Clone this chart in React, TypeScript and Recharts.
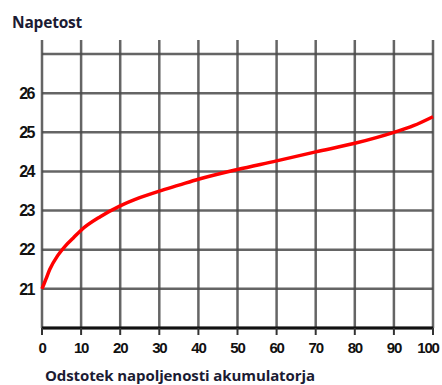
import React from 'react';
import { LineChart, Line, XAxis, YAxis, CartesianGrid } from 'recharts';

// charge percentage vs. battery voltage
const percent = [0, 1, 2, 4, 6, 8, 10, 15, 20, 25, 30, 35, 40, 50, 60, 70, 80, 90, 95, 100];
const voltage = [21, 21.25, 21.5, 21.85, 22.1, 22.3, 22.5, 22.85, 23.12, 23.33, 23.5, 23.65, 23.8, 24.05, 24.27, 24.5, 24.72, 25.0, 25.17, 25.4];

const xTicks = [0, 10, 20, 30, 40, 50, 60, 70, 80, 90, 100];
const yTicks = [20, 21, 22, 23, 24, 25, 26, 27];

const data = percent.map((p, i) => ({ p, v: voltage[i] }));

const titleColor = '#1b1b33';
const gridColor = '#4a4a4a';

// x tick: last label nudged in so it is not clipped
const XTick = (props: any) => {
  const { x, y, payload } = props;
  const dx = payload.value === 100 ? -5 : 0;
  return (
    <text
      x={x + dx}
      y={y + 12}
      textAnchor="middle"
      fill="#111"
      fontSize={15}
      fontWeight={700}
      fontFamily='"Liberation Sans", sans-serif'
      letterSpacing={-1.2}
    >
      {payload.value}
    </text>
  );
};

const App = () => {
  return (
    <div style={{ position: 'absolute', left: 0, top: 0, width: 442, height: 385, background: '#fff' }}>
      <div
        style={{
          position: 'absolute',
          left: 12,
          top: 11,
          fontFamily: '"Open Sans", sans-serif',
          fontWeight: 700,
          fontSize: 15.5,
          letterSpacing: -0.2,
          color: titleColor,
        }}
      >
        Napetost
      </div>
      <LineChart width={442} height={385} data={data} margin={{ top: 40, right: 9, bottom: 27, left: 0 }}>
        <CartesianGrid stroke={gridColor} strokeWidth={2.5} strokeOpacity={0.85} horizontalValues={yTicks} verticalValues={xTicks} />
        <XAxis
          dataKey="p"
          type="number"
          domain={[0, 100]}
          ticks={xTicks}
          height={30}
          axisLine={{ stroke: '#111', strokeWidth: 3 }}
          tickLine={{ stroke: '#333', strokeWidth: 2 }}
          tickSize={7}
          tickMargin={6}
          tick={<XTick />}
          interval={0}
        />
        <YAxis
          type="number"
          domain={[20, 27.36]}
          ticks={yTicks}
          width={42}
          axisLine={false}
          tickLine={false}
          tickSize={6}
          tickMargin={2}
          tickFormatter={(v: number) => (v === 20 || v === 27 ? '' : String(v))}
          tick={{ fill: '#111', fontSize: 16, fontWeight: 700, fontFamily: '"Liberation Sans", sans-serif', letterSpacing: -1.5 }}
          interval={0}
        />
        <Line
          type="monotone"
          dataKey="v"
          stroke="#ff0000"
          strokeWidth={3.5}
          dot={false}
          isAnimationActive={false}
        />
      </LineChart>
      <div
        style={{
          position: 'absolute',
          left: 45,
          top: 365,
          fontFamily: '"Open Sans", sans-serif',
          fontWeight: 700,
          fontSize: 15,
          letterSpacing: -0.1,
          color: titleColor,
          whiteSpace: 'nowrap',
        }}
      >
        Odstotek napoljenosti akumulatorja
      </div>
    </div>
  );
};

export default App;
